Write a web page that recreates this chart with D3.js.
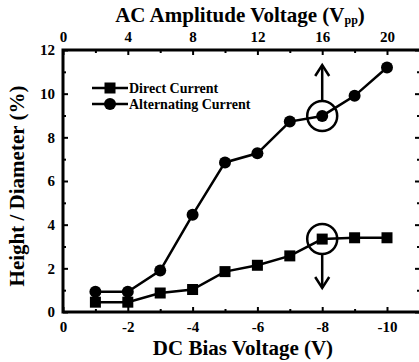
<!DOCTYPE html>
<html><head><meta charset="utf-8">
<script src="https://cdn.jsdelivr.net/npm/d3@7"></script>
<style>body{margin:0;background:#fff}svg{display:block}text{font-family:"Liberation Serif","Times New Roman",serif;font-weight:bold;fill:#000}</style>
</head><body><svg id="c" width="419" height="362"></svg>
<script>
const dcBias = [-1,-2,-3,-4,-5,-6,-7,-8,-9,-10];
const directCurrent = [0.45,0.45,0.87,1.03,1.85,2.14,2.57,3.34,3.4,3.4];
const alternatingCurrent = [0.93,0.93,1.9,4.45,6.85,7.27,8.72,8.98,9.9,11.2];
const bottomTicks = [0,-2,-4,-6,-8,-10];
const topTicks = [0,4,8,12,16,20];
const yTicks = [0,2,4,6,8,10,12];
const minorX = [-1,-3,-5,-7,-9];
const minorTop = [2,6,10,14,18];
const minorY = [1,3,5,7,9,11];

const svg = d3.select("#c");
const L=63, R=422, T=50, B=312;
const x = d3.scaleLinear().domain([0,-10]).range([L,387]);
const xTop = d3.scaleLinear().domain([0,20]).range([L,387]);
const y = d3.scaleLinear().domain([0,12]).range([B,T]);

function styleAxis(g){
  g.attr("font-size",null).attr("font-family",null);
  g.select(".domain").remove();
  g.selectAll(".tick line").attr("stroke","#000").attr("stroke-width",2);
  g.selectAll(".tick text").style("font-size","15px");
}

svg.append("g").attr("transform",`translate(0,${B})`)
  .call(d3.axisBottom(x).tickValues(bottomTicks).tickSize(-5).tickPadding(9).tickFormat(d=>String(d)))
  .call(styleAxis);
svg.append("g").attr("transform",`translate(0,${B})`)
  .call(d3.axisBottom(x).tickValues(minorX).tickSize(-3).tickFormat(""))
  .call(styleAxis);
svg.append("g").attr("transform",`translate(0,${T})`)
  .call(d3.axisTop(xTop).tickValues(topTicks).tickSize(-5).tickPadding(8))
  .call(styleAxis);
svg.append("g").attr("transform",`translate(0,${T})`)
  .call(d3.axisTop(xTop).tickValues(minorTop).tickSize(-3).tickFormat(""))
  .call(styleAxis);
svg.append("g").attr("transform",`translate(${L},0)`)
  .call(d3.axisLeft(y).tickValues(yTicks).tickSize(-5).tickPadding(8))
  .call(styleAxis);
svg.append("g").attr("transform",`translate(${L},0)`)
  .call(d3.axisLeft(y).tickValues(minorY).tickSize(-3).tickFormat(""))
  .call(styleAxis);
svg.append("g").attr("transform",`translate(${R},0)`)
  .call(d3.axisRight(y).tickValues(yTicks).tickSize(-7).tickFormat(""))
  .call(styleAxis);
svg.append("g").attr("transform",`translate(${R},0)`)
  .call(d3.axisRight(y).tickValues(minorY).tickSize(-5).tickFormat(""))
  .call(styleAxis);

svg.append("rect").attr("x",L).attr("y",T).attr("width",R-L).attr("height",B-T)
  .attr("fill","none").attr("stroke","#000").attr("stroke-width",3);

const line = d3.line().x((d,i)=>x(dcBias[i])).y(d=>y(d));
svg.append("path").datum(directCurrent).attr("d",line).attr("fill","none").attr("stroke","#000").attr("stroke-width",2.5);
svg.append("path").datum(alternatingCurrent).attr("d",line).attr("fill","none").attr("stroke","#000").attr("stroke-width",2.5);
const sq=11;
svg.selectAll(".sq").data(directCurrent).join("rect")
  .attr("x",(d,i)=>x(dcBias[i])-sq/2).attr("y",d=>y(d)-sq/2).attr("width",sq).attr("height",sq).attr("fill","#000");
svg.selectAll(".ci").data(alternatingCurrent).join("circle")
  .attr("cx",(d,i)=>x(dcBias[i])).attr("cy",d=>y(d)).attr("r",6).attr("fill","#000");

const hx = x(-8);
function ring(v){ svg.append("circle").attr("cx",hx).attr("cy",y(v)).attr("r",15).attr("fill","none").attr("stroke","#000").attr("stroke-width",2.5); }
ring(alternatingCurrent[7]); ring(directCurrent[7]);
function arrow(y1,y2){
  const dir = y2<y1?1:-1;
  svg.append("line").attr("x1",hx).attr("x2",hx).attr("y1",y1).attr("y2",y2).attr("stroke","#000").attr("stroke-width",2.5);
  svg.append("path").attr("d",`M${hx-7},${y2+dir*11}L${hx},${y2}L${hx+7},${y2+dir*11}`).attr("fill","none").attr("stroke","#000").attr("stroke-width",2.5);
}
arrow(y(alternatingCurrent[7])-15, 65);
arrow(y(directCurrent[7])+15, 288);

const lg = svg.append("g");
[["Direct Current","sq",88],["Alternating Current","ci",104]].forEach(([t,m,ly])=>{
  lg.append("line").attr("x1",92).attr("x2",128).attr("y1",ly).attr("y2",ly).attr("stroke","#000").attr("stroke-width",2.5);
  if(m==="sq") lg.append("rect").attr("x",104.5).attr("y",ly-5.5).attr("width",11).attr("height",11);
  else lg.append("circle").attr("cx",110).attr("cy",ly).attr("r",6);
  lg.append("text").attr("x",129).attr("y",ly+5).style("font-size","14px").text(t);
});

svg.append("text").attr("x",243).attr("y",355).attr("text-anchor","middle").style("font-size","21px").text("DC Bias Voltage (V)");
const tt = svg.append("text").attr("x",240).attr("y",22).attr("text-anchor","middle").style("font-size","21px");
tt.append("tspan").text("AC Amplitude Voltage (V");
tt.append("tspan").attr("dy",2).style("font-size","12px").text("pp");
tt.append("tspan").attr("dy",-2).text(")");
svg.append("text").attr("transform","translate(24,186) rotate(-90)").attr("text-anchor","middle").style("font-size","21px").text("Height / Diameter (%)");
</script></body></html>
